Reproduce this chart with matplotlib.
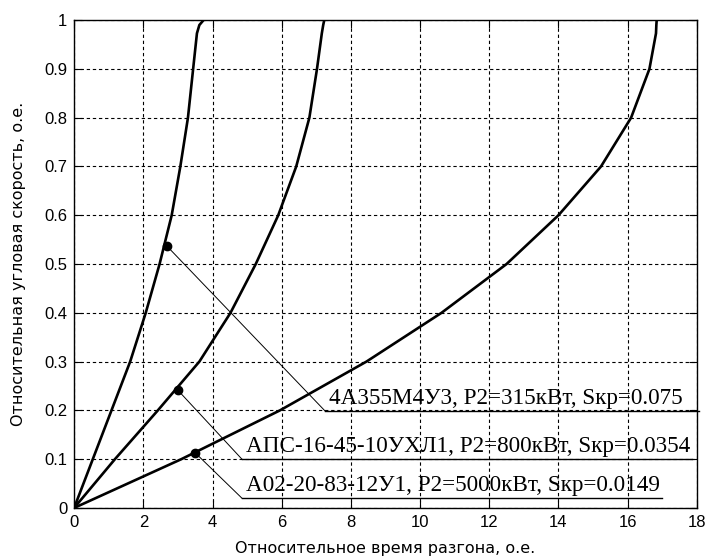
import numpy as np
import matplotlib
matplotlib.use("Agg")
import matplotlib.pyplot as plt

# relative speed (y) vs relative run-up time (x)
speed = [0.0, 0.1, 0.2, 0.3, 0.4, 0.5, 0.6, 0.7, 0.8, 0.9, 0.973, 0.99, 1.0]
time_4a355 = [0.0, 0.54, 1.08, 1.62, 2.07, 2.47, 2.82, 3.07, 3.29, 3.44, 3.55, 3.62, 3.74]
time_aps = [0.0, 1.18, 2.42, 3.62, 4.52, 5.25, 5.9, 6.42, 6.80, 7.02, 7.16, 7.20, 7.23]
time_a02 = [0.0, 3.10, 5.95, 8.45, 10.62, 12.5, 14.0, 15.23, 16.1, 16.63, 16.82, 16.83, 16.84]

# marked points and their labels
dot_x = [2.68, 2.99, 3.50]
dot_y = [0.537, 0.242, 0.113]
labels = ["4А355М4У3, P2=315кВт, Sкр=0.075",
          "АПС-16-45-10УХЛ1, P2=800кВт, Sкр=0.0354",
          "А02-20-83-12У1, P2=5000кВт, Sкр=0.0149"]
label_x = [7.25, 4.85, 4.85]
label_y = [0.199, 0.100, 0.020]
line_end = [18.05, 17.85, 16.99]

fig = plt.figure(figsize=(7.06, 5.6), dpi=100)
ax = fig.add_axes([0.105, 0.093, 0.882, 0.871])

for t in (time_4a355, time_aps, time_a02):
    ax.plot(t, speed, color="black", linewidth=1.9, zorder=3, solid_joinstyle="round")

ax.plot(dot_x, dot_y, "o", color="black", markersize=6, zorder=4)

for i in range(3):
    # leader from point to the start of the underline, then the underline
    ax.plot([dot_x[i], label_x[i]], [dot_y[i], label_y[i]], color="black", linewidth=0.7, zorder=2)
    ax.plot([label_x[i], line_end[i]], [label_y[i], label_y[i]], color="black", linewidth=1.0,
            zorder=2, clip_on=False)
    ax.text(label_x[i] + 0.12, label_y[i] + 0.004, labels[i], family="Liberation Serif",
            fontsize=16.7, ha="left", va="bottom", zorder=5)

ax.set_xlim(0, 18)
ax.set_ylim(0, 1)
ax.set_xticks(np.arange(0, 19, 2))
ax.set_yticks(np.arange(0, 1.01, 0.1))
ax.set_yticklabels(["0", "0.1", "0.2", "0.3", "0.4", "0.5", "0.6", "0.7", "0.8", "0.9", "1"])
ax.grid(True, color="black", linestyle=(0, (3, 2.5)), linewidth=0.8)
ax.tick_params(direction="in", length=6, top=True, right=True, labelsize=12, pad=5)
for lab in ax.get_xticklabels() + ax.get_yticklabels():
    lab.set_family("Liberation Sans")
for s in ax.spines.values():
    s.set_linewidth(1.0)

ax.set_xlabel("Относительное время разгона, о.е.", family="DejaVu Sans", fontsize=11.5, labelpad=8)
ax.set_ylabel("Относительная угловая скорость, о.е.", family="DejaVu Sans", fontsize=11.5)
ax.yaxis.set_label_coords(-0.078, 0.5)

fig.savefig("out.png", dpi=100)
